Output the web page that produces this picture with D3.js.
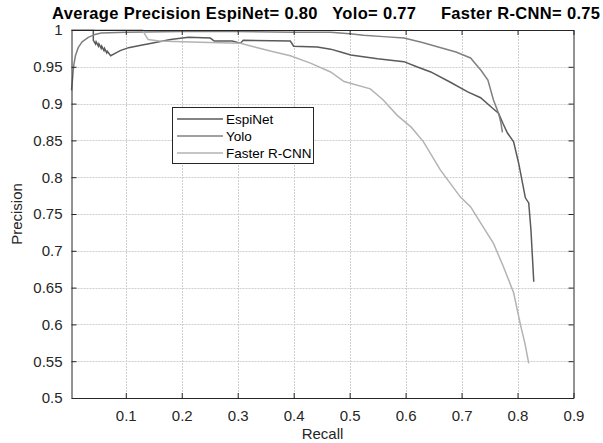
<!DOCTYPE html>
<html>
<head>
<meta charset="utf-8">
<script src="https://cdn.jsdelivr.net/npm/d3@7"></script>
<style>
  body { margin: 0; background: #fff; }
  text { font-family: "Liberation Sans", Arial, sans-serif; }
</style>
</head>
<body>
<svg width="603" height="443"></svg>
<script>
// recall / precision pairs
var espinet = [[0.003,1.0],[0.042,1.0],[0.042,0.986],[0.046,0.981],[0.047,0.984],[0.051,0.978],[0.052,0.981],
  [0.056,0.975],[0.057,0.978],[0.061,0.972],[0.062,0.975],[0.066,0.969],[0.067,0.971],[0.073,0.965],[0.08,0.968],
  [0.09,0.972],[0.105,0.976],[0.125,0.979],[0.146,0.982],[0.18,0.987],[0.212,0.990],[0.251,0.989],[0.258,0.985],
  [0.29,0.985],[0.305,0.982],[0.31,0.986],[0.394,0.985],[0.40,0.978],[0.442,0.977],[0.466,0.974],[0.484,0.970],
  [0.502,0.966],[0.55,0.961],[0.597,0.957],[0.62,0.950],[0.645,0.943],[0.68,0.929],[0.711,0.916],[0.734,0.908],
  [0.755,0.894],[0.766,0.887],[0.774,0.873],[0.782,0.86],[0.793,0.848],[0.802,0.819],[0.814,0.772],[0.82,0.765],
  [0.824,0.728],[0.829,0.658]];
var yolo = [[0.003,0.918],[0.005,0.935],[0.007,0.952],[0.01,0.965],[0.015,0.976],[0.022,0.984],[0.033,0.990],
  [0.045,0.994],[0.056,0.996],[0.1,0.997],[0.2,0.998],[0.3,0.998],[0.4,0.997],[0.466,0.997],[0.5,0.995],
  [0.525,0.993],[0.56,0.991],[0.597,0.989],[0.63,0.983],[0.663,0.976],[0.69,0.970],[0.716,0.962],[0.735,0.945],
  [0.747,0.932],[0.757,0.905],[0.766,0.887],[0.77,0.875],[0.773,0.861]];
var fasterRcnn = [[0.003,1.0],[0.13,1.0],[0.135,0.993],[0.14,0.987],[0.16,0.985],[0.2,0.984],[0.25,0.983],
  [0.305,0.982],[0.33,0.977],[0.36,0.971],[0.394,0.965],[0.43,0.955],[0.466,0.943],[0.49,0.93],[0.537,0.92],
  [0.56,0.905],[0.585,0.884],[0.61,0.868],[0.632,0.848],[0.662,0.81],[0.698,0.773],[0.716,0.76],[0.734,0.738],
  [0.757,0.71],[0.775,0.678],[0.793,0.643],[0.806,0.597],[0.813,0.575],[0.82,0.547]];

var seriesNames = ["EspiNet", "Yolo", "Faster R-CNN"];
var seriesColors = ["#5a5a5a", "#808080", "#b3b3b3"];
var xTicks = [0.1, 0.2, 0.3, 0.4, 0.5, 0.6, 0.7, 0.8, 0.9];
var yTicks = [0.5, 0.55, 0.6, 0.65, 0.7, 0.75, 0.8, 0.85, 0.9, 0.95, 1];
var title = "Average Precision EspiNet= 0.80   Yolo= 0.77     Faster R-CNN= 0.75";

var svg = d3.select("svg");
var plotLeft = 71.5, plotRight = 573.5, plotTop = 30, plotBottom = 398;

var x = d3.scaleLinear().domain([0.003, 0.9]).range([plotLeft, plotRight]);
var y = d3.scaleLinear().domain([0.5, 1]).range([plotBottom, plotTop]);

// grid
var grid = svg.append("g").attr("stroke", "#cfcfcf").attr("stroke-dasharray", "2,1");
grid.selectAll(".gx").data(xTicks.slice(0, -1)).enter().append("line")
    .attr("x1", function(d) { return Math.round(x(d)) + 0.5; })
    .attr("x2", function(d) { return Math.round(x(d)) + 0.5; })
    .attr("y1", plotTop).attr("y2", plotBottom);
grid.selectAll(".gy").data(yTicks.slice(1, -1)).enter().append("line")
    .attr("y1", function(d) { return Math.round(y(d)) + 0.5; })
    .attr("y2", function(d) { return Math.round(y(d)) + 0.5; })
    .attr("x1", plotLeft).attr("x2", plotRight);

// curves
var line = d3.line().x(function(d) { return x(d[0]); }).y(function(d) { return y(d[1]); });
var allSeries = [espinet, yolo, fasterRcnn];
svg.selectAll(".curve").data(allSeries).enter().append("path")
    .attr("class", "curve")
    .attr("fill", "none")
    .attr("stroke", function(d, i) { return seriesColors[i]; })
    .attr("stroke-width", 1.5)
    .attr("d", line);

// axes, ticks inward on all sides
function styleAxis(g) {
    g.select(".domain").attr("stroke", "#262626");
    g.selectAll(".tick line").attr("stroke", "#262626");
    g.selectAll(".tick text").attr("fill", "#262626")
        .style("font-family", "Liberation Sans, Arial, sans-serif").style("font-size", "15px");
}
svg.append("g").attr("transform", "translate(0," + plotBottom + ")")
    .call(d3.axisBottom(x).tickValues(xTicks).tickSizeInner(-5).tickSizeOuter(0).tickPadding(12).tickFormat(d3.format("")))
    .call(styleAxis);
svg.append("g").attr("transform", "translate(0," + plotTop + ")")
    .call(d3.axisTop(x).tickValues(xTicks).tickSizeInner(-5).tickSizeOuter(0).tickFormat(""))
    .call(styleAxis);
svg.append("g").attr("transform", "translate(" + plotLeft + ",0)")
    .call(d3.axisLeft(y).tickValues(yTicks).tickSizeInner(-5).tickSizeOuter(0).tickPadding(9).tickFormat(d3.format("")))
    .call(styleAxis);
svg.append("g").attr("transform", "translate(" + plotRight + ",0)")
    .call(d3.axisRight(y).tickValues(yTicks).tickSizeInner(-5).tickSizeOuter(0).tickFormat(""))
    .call(styleAxis);

// labels
svg.append("text").attr("x", 326).attr("y", 19).attr("text-anchor", "middle")
    .attr("font-weight", "bold").attr("font-size", "16.5px").attr("fill", "#000")
    .attr("textLength", 548).attr("lengthAdjust", "spacing")
    .style("white-space", "pre").text(title);
svg.append("text").attr("x", (plotLeft + plotRight) / 2).attr("y", 439).attr("text-anchor", "middle")
    .attr("font-size", "15px").attr("fill", "#262626").text("Recall");
svg.append("text").attr("transform", "translate(22," + (plotTop + plotBottom) / 2 + ") rotate(-90)")
    .attr("text-anchor", "middle").attr("font-size", "15px").attr("fill", "#262626").text("Precision");

// legend
var lg = svg.append("g").attr("transform", "translate(172,107)");
lg.append("rect").attr("x", 0.5).attr("y", 0.5).attr("width", 141).attr("height", 56)
    .attr("fill", "#fff").attr("stroke", "#262626");
var item = lg.selectAll(".item").data(seriesNames).enter().append("g")
    .attr("transform", function(d, i) { return "translate(0," + (12 + i * 17) + ")"; });
item.append("line").attr("x1", 5).attr("x2", 51).attr("y1", 0).attr("y2", 0)
    .attr("stroke", function(d, i) { return seriesColors[i]; }).attr("stroke-width", 1.5);
item.append("text").attr("x", 54).attr("y", 0).attr("dy", "0.35em")
    .attr("font-size", "13.5px").attr("fill", "#000").text(function(d) { return d; });
</script>
</body>
</html>
